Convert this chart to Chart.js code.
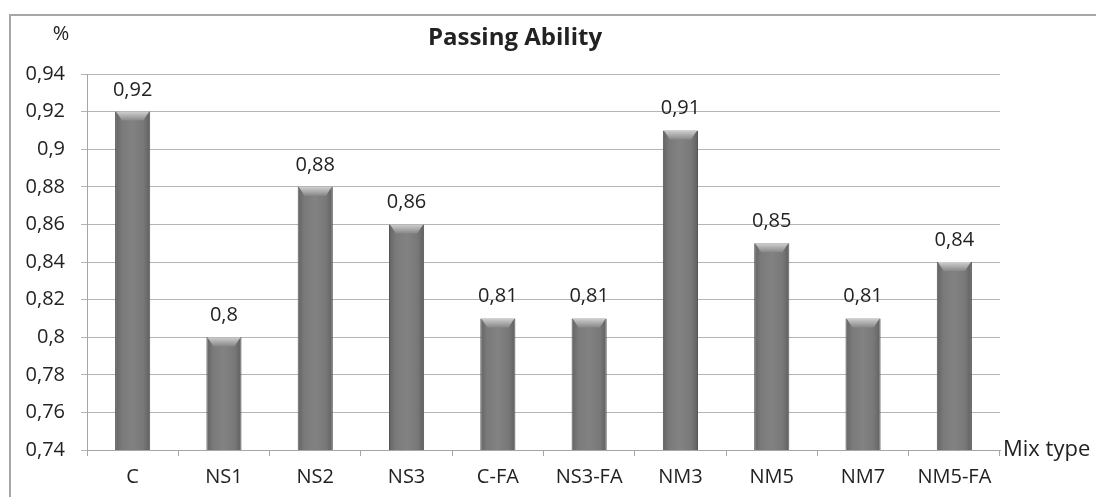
<!DOCTYPE html>
<html>
<head>
<meta charset="utf-8">
<script src="https://cdn.jsdelivr.net/npm/chart.js@4"></script>
<style>
  html, body { margin: 0; padding: 0; background: #fff; }
  #wrap { width: 1096px; height: 497px; position: relative; }
</style>
</head>
<body>
<div id="wrap"><canvas id="passingChart" width="1096" height="497"></canvas></div>
<script>
// Mengsels en gemeten waarden
const mixTypes = ['C', 'NS1', 'NS2', 'NS3', 'C-FA', 'NS3-FA', 'NM3', 'NM5', 'NM7', 'NM5-FA'];
const passingValues = [0.92, 0.80, 0.88, 0.86, 0.81, 0.81, 0.91, 0.85, 0.81, 0.84];
const yTicks = [0.74, 0.76, 0.78, 0.80, 0.82, 0.84, 0.86, 0.88, 0.90, 0.92, 0.94];

const fontFamily = '"Open Sans", Lato, sans-serif';

function commaNumber(v) {
    return String(Math.round(v * 100) / 100).replace('.', ',');
}

// Grijze cilinder-achtige kleurverloop per staaf
function barGradient(context) {
    const chart = context.chart;
    const xScale = chart.scales.x;
    if (!xScale || context.dataIndex === undefined) return '#808080';
    const cx = xScale.getPixelForValue(context.dataIndex);
    if (!isFinite(cx)) return '#808080';
    const half = 18;
    const g = chart.ctx.createLinearGradient(cx - half, 0, cx + half, 0);
    g.addColorStop(0, '#626262');
    g.addColorStop(0.2, '#7a7a7a');
    g.addColorStop(0.5, '#828282');
    g.addColorStop(0.8, '#787878');
    g.addColorStop(1, '#5e5e5e');
    return g;
}

// Kader, titel, eenheid en as-titel
const decorPlugin = {
    id: 'decor',
    beforeDraw(chart) {
        const ctx = chart.ctx;
        ctx.save();
        ctx.strokeStyle = '#a6a6a6';
        ctx.lineWidth = 2;
        ctx.beginPath();
        ctx.moveTo(10, 497);
        ctx.lineTo(10, 15);
        ctx.lineTo(1096, 15);
        ctx.stroke();
        ctx.restore();
    },
    afterDraw(chart) {
        const ctx = chart.ctx;
        const area = chart.chartArea;
        ctx.save();
        ctx.fillStyle = '#222';
        ctx.font = 'bold 24px ' + fontFamily;
        ctx.textAlign = 'center';
        ctx.textBaseline = 'middle';
        ctx.fillText('Passing Ability', 515, 38);
        ctx.font = '20px ' + fontFamily;
        ctx.fillText('%', 61, 34);
        ctx.textAlign = 'left';
        ctx.font = '22px ' + fontFamily;
        ctx.fillText('Mix type', area.right + 3, area.bottom);
        ctx.restore();
    }
};

// Lichte bovenkant van de staven en waardelabels
const capLabelPlugin = {
    id: 'capLabels',
    afterDatasetsDraw(chart) {
        const ctx = chart.ctx;
        const meta = chart.getDatasetMeta(0);
        ctx.save();
        meta.data.forEach((bar, i) => {
            const left = bar.x - bar.width / 2;
            const right = bar.x + bar.width / 2;
            const g = ctx.createLinearGradient(0, bar.y, 0, bar.y + 9);
            g.addColorStop(0, '#d0d0d0');
            g.addColorStop(1, '#888888');
            ctx.fillStyle = g;
            ctx.beginPath();
            ctx.moveTo(left + 1, bar.y);
            ctx.lineTo(right - 1, bar.y);
            ctx.lineTo(right - 7, bar.y + 9);
            ctx.lineTo(left + 7, bar.y + 9);
            ctx.closePath();
            ctx.fill();

            ctx.fillStyle = '#222';
            ctx.font = '20px ' + fontFamily;
            ctx.textAlign = 'center';
            ctx.textBaseline = 'alphabetic';
            ctx.fillText(commaNumber(passingValues[i]), bar.x, bar.y - 16);
        });
        ctx.restore();
    }
};

const ctx = document.getElementById('passingChart').getContext('2d');
const passingChart = new Chart(ctx, {
    type: 'bar',
    data: {
        labels: mixTypes,
        datasets: [{
            label: 'Passing Ability',
            data: passingValues,
            backgroundColor: barGradient,
            borderColor: '#555',
            borderWidth: 1,
            categoryPercentage: 1,
            barPercentage: 0.385
        }]
    },
    options: {
        responsive: false,
        animation: false,
        layout: {
            padding: { left: 10, right: 96, top: 74, bottom: 0 }
        },
        scales: {
            x: {
                offset: true,
                grid: {
                    offset: true,
                    drawOnChartArea: false,
                    drawTicks: true,
                    tickLength: 6,
                    color: '#a6a6a6'
                },
                border: { color: '#a6a6a6', width: 1 },
                ticks: {
                    color: '#222',
                    padding: 9,
                    font: { family: fontFamily, size: 20 }
                },
                afterFit(scale) { scale.height = 47; }
            },
            y: {
                min: 0.74,
                max: 0.94,
                afterBuildTicks(scale) {
                    scale.ticks = yTicks.map(v => ({ value: v }));
                },
                grid: {
                    color: '#b4b4b4',
                    tickLength: 6
                },
                border: { color: '#a6a6a6', width: 1 },
                ticks: {
                    color: '#222',
                    padding: 16,
                    font: { family: fontFamily, size: 20 },
                    callback: v => commaNumber(v)
                },
                afterFit(scale) { scale.width = 77; }
            }
        },
        plugins: {
            legend: { display: false },
            title: { display: false },
            tooltip: { enabled: false }
        }
    },
    plugins: [decorPlugin, capLabelPlugin]
});
</script>
</body>
</html>
